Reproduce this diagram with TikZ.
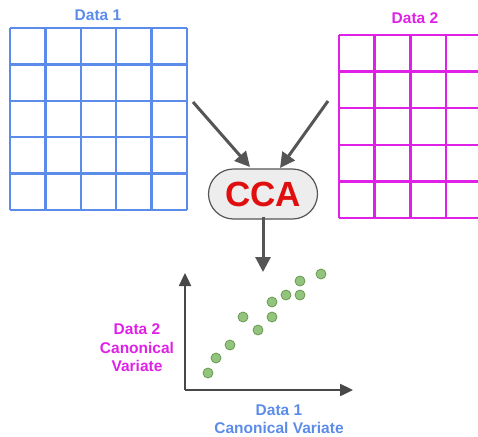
\documentclass[tikz,border=0pt]{standalone}
\usepackage{fontspec}
\setmainfont{Liberation Sans}
\usetikzlibrary{arrows.meta}
\definecolor{gridblue}{HTML}{5B8CEA}
\definecolor{gridmag}{HTML}{E020E6}
\definecolor{arrowgray}{HTML}{555555}
\definecolor{dotfill}{HTML}{93C47D}
\definecolor{dotline}{HTML}{6A9A52}
\definecolor{ccared}{HTML}{E00F0F}
\tikzset{
  gridline/.style={line width=2.5pt},
  flow/.style={draw=arrowgray, line width=3pt, -{Triangle[length=15pt,width=15pt]}},
  axis/.style={draw=arrowgray!85!black, line width=2.4pt, -{Triangle[length=13pt,width=12pt]}},
  label/.style={font=\bfseries\fontsize{15.5}{18.5}\selectfont, align=center, inner sep=0pt},
  ccabox/.style={draw=arrowgray, line width=1.2pt, fill=black!7, rounded corners=25pt,
    minimum width=109pt, minimum height=50pt, inner sep=0pt,
    font=\bfseries\fontsize{35}{35}\selectfont, text=ccared},
  dot/.style={circle, fill=dotfill, draw=dotline, line width=0.8pt, minimum size=10pt, inner sep=0pt}
}
\begin{document}
\begin{tikzpicture}[x=1pt,y=-1pt]
\useasboundingbox (0,0) rectangle (478,436);
\clip (0,0) rectangle (478,436);

% first data matrix: 5 x 5 cells
\foreach \i in {0,...,5} {
  \draw[gridline, gridblue] ({10+\i*35.4},28) -- ({10+\i*35.4},210);
  \draw[gridline, gridblue] (10,{28+\i*36.4}) -- (187,{28+\i*36.4});
}
\node[label, text=gridblue] (d1) at (98,15) {Data 1};

% second data matrix, running off the right edge
\foreach \i in {0,...,3} {
  \draw[gridline, gridmag] ({339+\i*35.7},35) -- ({339+\i*35.7},218);
}
\foreach \i in {0,...,5} {
  \draw[gridline, gridmag] (339,{35+\i*36.6}) -- (480,{35+\i*36.6});
}
\node[label, text=gridmag] (d2) at (415,18) {Data 2};

% CCA step
\node[ccabox] (cca) at (263,194) {CCA};
\coordinate (s1) at (193,102);
\coordinate (s2) at (328,101);
\coordinate (t1) at (250,167);
\coordinate (t2) at (280,168);
\coordinate (out) at (263,272);
\draw[flow] (s1) -- (t1);
\draw[flow] (s2) -- (t2);
\draw[flow] (cca.south) ++(0,-3) coordinate (cs) (cs) -- (out);

% scatter plot of the canonical variates
\coordinate (o) at (185,390);
\coordinate (ytip) at (185,273);
\coordinate (xtip) at (353,390);
\draw[axis] (o) -- (ytip);
\draw[axis] (o) -- (xtip);
\foreach \x/\y [count=\k] in {208/373,216/358,230/345,243/317,258/330,272/317,272/302,286/295,300/295,300/281,321/274}
  \node[dot] (p\k) at (\x,\y) {};

\node[label, text=gridmag] (ylab) at (137,348) {Data 2\\Canonical\\Variate};
\node[label, text=gridblue] (xlab) at (279,419) {Data 1\\Canonical Variate};
\end{tikzpicture}
\end{document}
